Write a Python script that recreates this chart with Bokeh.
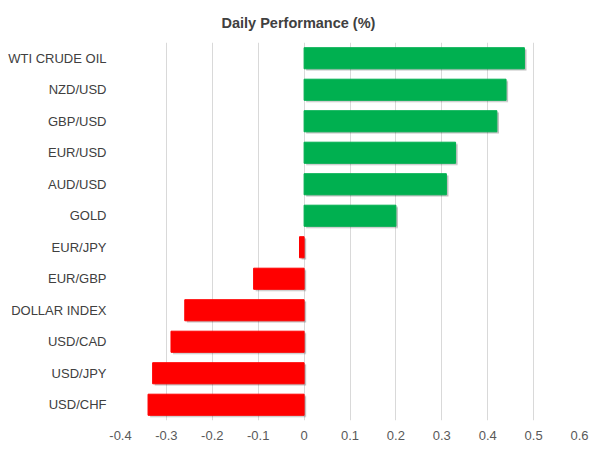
from bokeh.plotting import figure
from bokeh.models import Range1d, FactorRange, FixedTicker, NumeralTickFormatter, ColumnDataSource
from bokeh.transform import dodge
from bokeh.embed import file_html
from bokeh.resources import INLINE

categories = ["WTI CRUDE OIL", "NZD/USD", "GBP/USD", "EUR/USD", "AUD/USD", "GOLD",
              "EUR/JPY", "EUR/GBP", "DOLLAR INDEX", "USD/CAD", "USD/JPY", "USD/CHF"]
values = [0.48, 0.44, 0.42, 0.33, 0.31, 0.20, -0.01, -0.11, -0.26, -0.29, -0.33, -0.34]
x_ticks = [-0.4, -0.3, -0.2, -0.1, 0, 0.1, 0.2, 0.3, 0.4, 0.5, 0.6]

GREEN = "#00B050"
RED = "#FF0000"
colors = [GREEN if v >= 0 else RED for v in values]

SHADOW_DX = 0.0045
src = ColumnDataSource(dict(
    cat=categories, val=values, color=colors,
    sh_left=[min(0, v) + SHADOW_DX for v in values],
    sh_right=[max(0, v) + SHADOW_DX for v in values],
))

p = figure(width=600, height=453, output_backend="svg", toolbar_location=None,
           x_range=Range1d(-0.4, 0.6), y_range=FactorRange(factors=categories[::-1], range_padding=0),
           min_border_left=120, min_border_right=21, min_border_top=42, min_border_bottom=33,
           title="Daily Performance (%)")

p.hbar(y=dodge("cat", -0.07, range=p.y_range), left="sh_left", right="sh_right", height=0.67,
       fill_color="#000000", fill_alpha=0.12, line_color=None, source=src)
p.hbar(y=dodge("cat", -0.04, range=p.y_range), left="sh_left", right="sh_right", height=0.67,
       fill_color="#000000", fill_alpha=0.14, line_color=None, source=src)
p.hbar(y="cat", left=0, right="val", height=0.67, color="color", source=src)

p.title.align = "left"
p.title.offset = 101
p.title.standoff = 23
p.title.text_font = "Liberation Sans"
p.title.text_font_size = "14.5px"
p.title.text_font_style = "bold"
p.title.text_color = "#404040"

p.outline_line_color = None
p.ygrid.grid_line_color = None
p.xgrid.grid_line_color = "#D9D9D9"
p.xaxis.ticker = FixedTicker(ticks=x_ticks)
p.xaxis.formatter = NumeralTickFormatter(format="0.[0]")
for ax in (p.xaxis[0], p.yaxis[0]):
    ax.axis_line_color = None
    ax.major_tick_line_color = None
    ax.minor_tick_line_color = None
    ax.major_tick_out = 0
    ax.major_tick_in = 0
    ax.major_label_text_font = "Liberation Sans"
    ax.major_label_text_font_size = "13px"
    ax.major_label_text_color = "#404040"
p.xaxis.major_label_standoff = 10
p.yaxis.major_label_standoff = 14
p.xaxis.major_label_text_color = "#595959"

open("out.html", "w").write(file_html(p, INLINE))
